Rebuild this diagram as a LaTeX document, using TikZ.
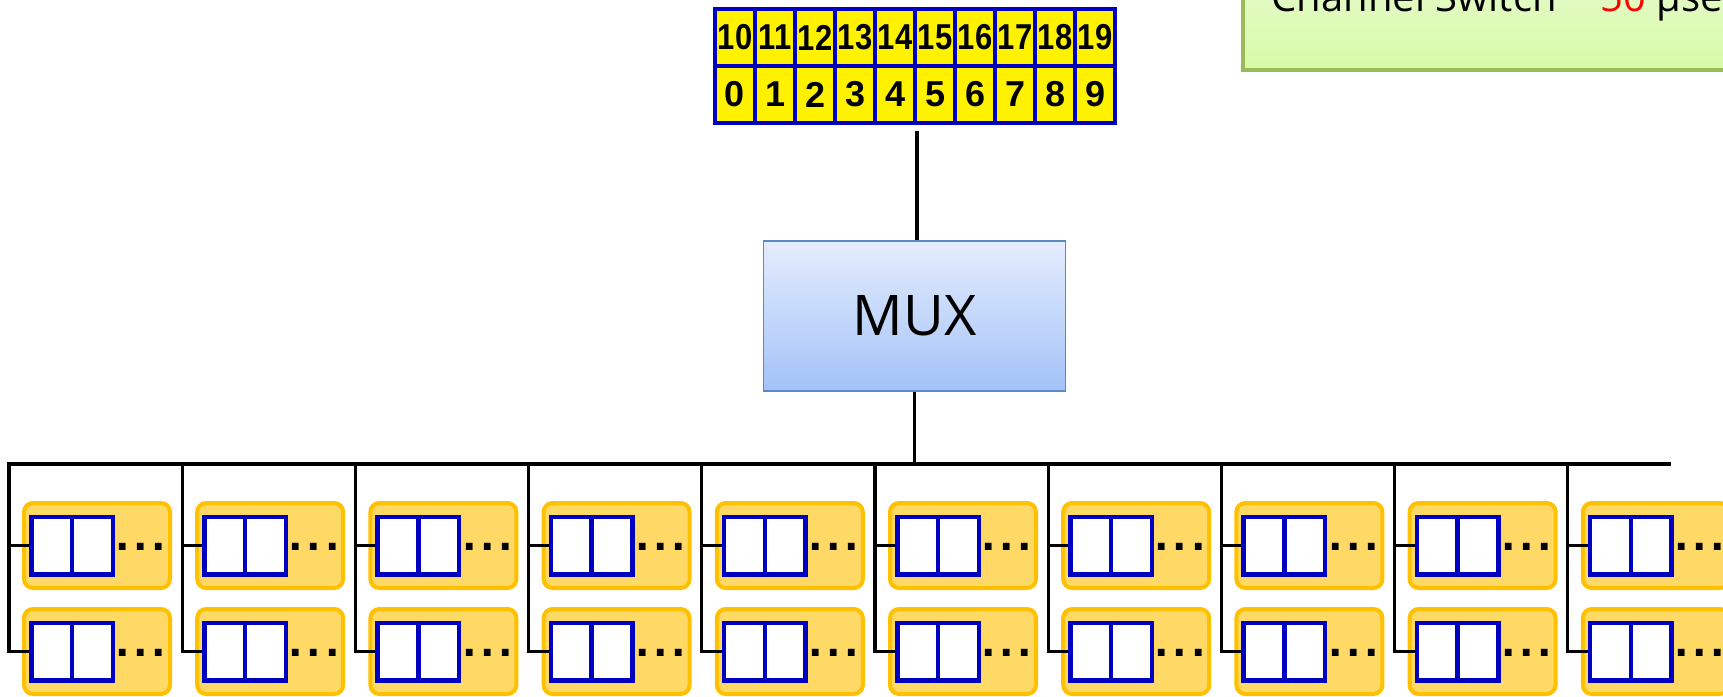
\documentclass[tikz,border=0pt]{standalone}
\usepackage{graphicx}
\usepackage{fontspec}
\setmainfont{Open Sans}
\newfontfamily\cellfont{Liberation Sans}
\newfontfamily\dotfont{DejaVu Sans}
\usetikzlibrary{
    positioning,  % relative placement
    calc          % coordinate calculations
}
\definecolor{regblue}{HTML}{0000C0}
\definecolor{muxtop}{HTML}{E4EDFD}
\definecolor{muxbot}{HTML}{A3C2F8}
\definecolor{muxedge}{HTML}{5A8AC6}
\definecolor{orfill}{HTML}{FFD966}
\definecolor{oredge}{HTML}{FFC000}
\definecolor{notetop}{HTML}{E6FAD0}
\definecolor{notebot}{HTML}{D8FBA6}
\definecolor{noteedge}{HTML}{9BBB59}

\begin{document}
\begin{tikzpicture}[
    x=1pt, y=-1pt,
    line width=3.2pt,
    cell/.style={draw=regblue, fill=yellow, line width=4pt, inner sep=0pt,
        minimum width=40pt, minimum height=57pt,
        font=\cellfont\bfseries\fontsize{36}{36}\selectfont},
    mux/.style={draw=muxedge, line width=1.5pt, top color=muxtop, bottom color=muxbot,
        minimum width=302pt, minimum height=150pt,
        font=\fontsize{56}{56}\selectfont},
    buffer/.style={draw=oredge, fill=orfill, line width=4pt, rounded corners=9pt,
        minimum width=146pt, minimum height=85pt},
    slot/.style={draw=regblue, fill=white, line width=4.5pt,
        minimum width=81.5pt, minimum height=57.5pt},
    dots/.style={inner sep=0pt, font=\dotfont\bfseries\fontsize{38}{38}\selectfont}
]
    \useasboundingbox (0,0) rectangle (1723,696);
    \clip (0,0) rectangle (1723,696);

    % --- Note box (cut by the top edge) ---
    \draw[draw=noteedge, top color=notetop, bottom color=notebot] (1243,-40) rectangle (1780,70);
    \node[anchor=base west, inner sep=0pt, font=\fontsize{40}{40}\selectfont] (note) at (1270,12)
        {Channel Switch \textasciitilde\ \textcolor{red}{50} µsec};

    % --- Channel register ---
    \foreach \i in {0,...,9} {
        \pgfmathtruncatemacro\j{\i+10}
        \node[cell] (hi\i) at ({735+40*\i},37.5) {\scalebox{0.86}[1]{\j}};
        \node[cell] (lo\i) at ({735+40*\i},94.5) {\i};
    }

    % --- MUX ---
    \node[mux] (mux) at (914.5,316) {MUX};
    \draw[shorten <=6pt] (lo4.south east) -- (lo4.south east |- mux.north);

    % --- Bus ---
    \coordinate (busR) at (1671,464);
    \draw (mux.south) -- (mux.south |- busR);

    % --- Buffers ---
    \foreach \c in {0,...,9} {
        \pgfmathsetmacro\x{9+173.2*\c}
        \coordinate (tap\c) at (\x,464);
        \foreach \r/\y in {1/545.5, 2/651.5} {
            \node[buffer] (buf\c-\r) at (\x+88,\y) {};
            \node[slot] (slot\c-\r) at (\x+63,\y) {};
            \draw[regblue, line width=4.5pt] (slot\c-\r.north) -- (slot\c-\r.south);
            \node[dots] (dots\c-\r) at (\x+132,\y+1.5) {.\kern3.7pt.\kern3.7pt.};
        }
    }

    % --- Taps ---
    \draw (busR) -- (tap0) |- (slot0-2.west);
    \draw (tap0 |- slot0-1.west) -- (slot0-1.west);
    \foreach \c in {1,...,9} {
        \draw (tap\c) |- (slot\c-2.west);
        \draw (tap\c |- slot\c-1.west) -- (slot\c-1.west);
    }
\end{tikzpicture}
\end{document}
